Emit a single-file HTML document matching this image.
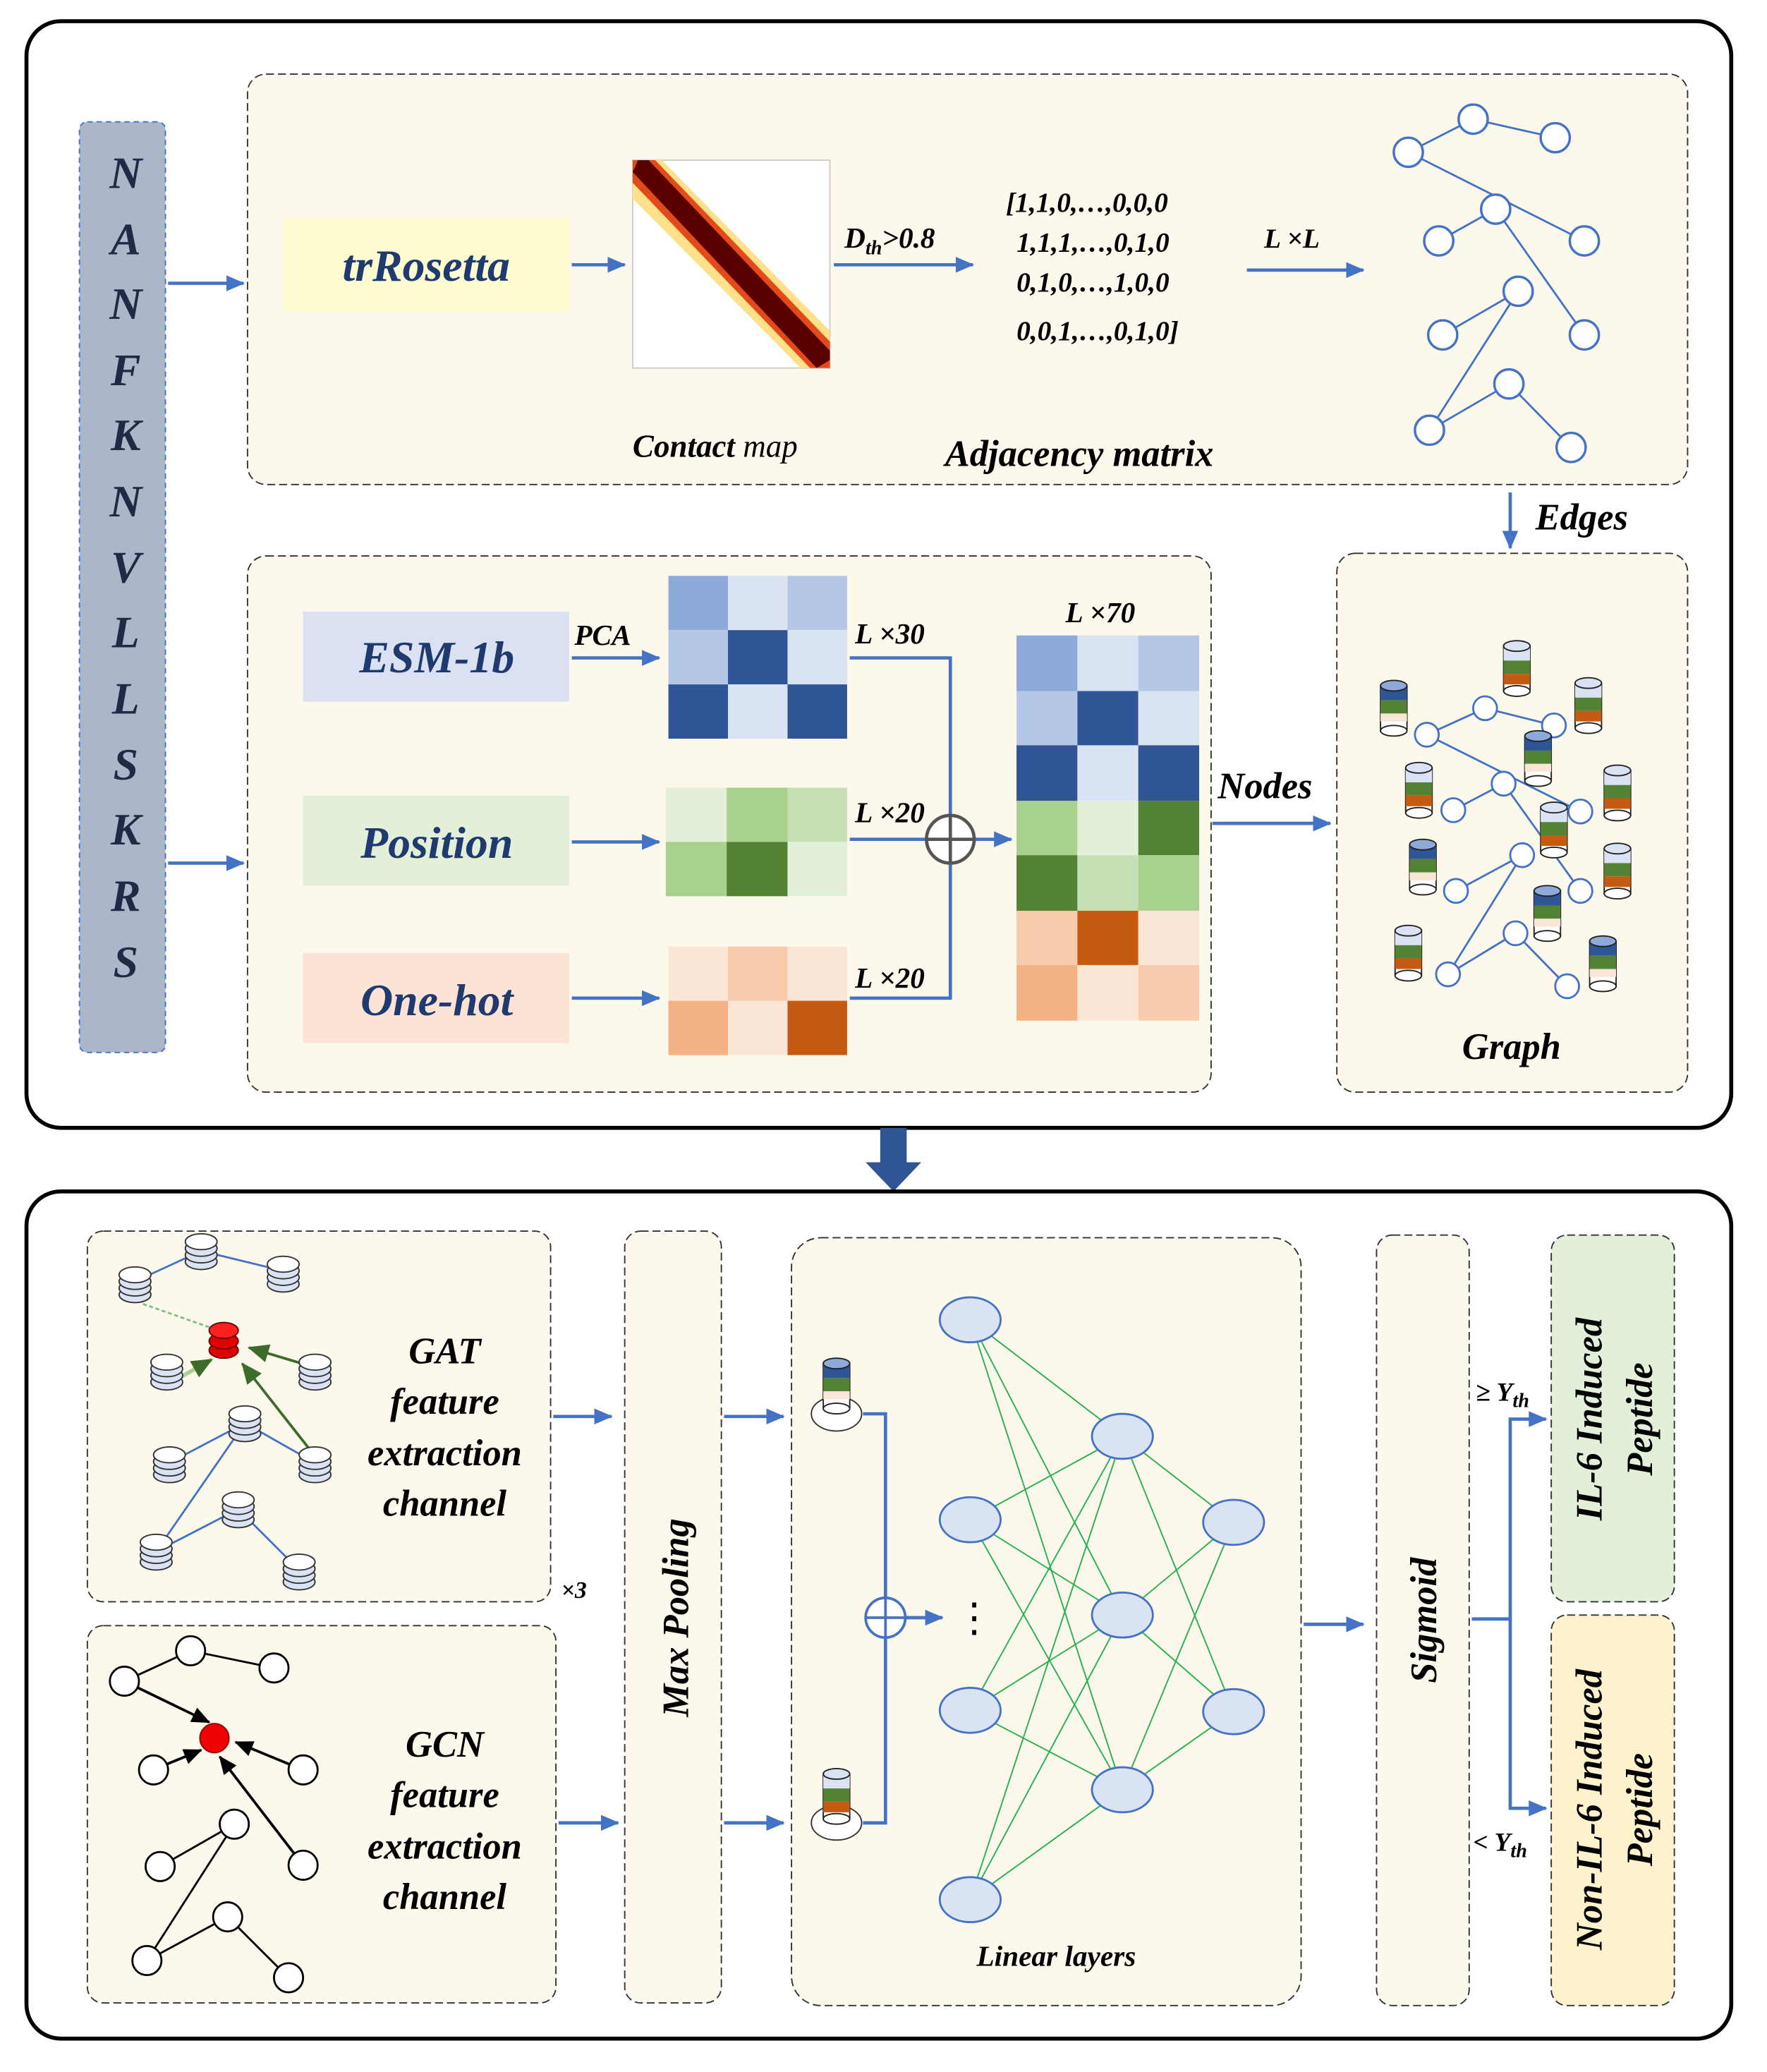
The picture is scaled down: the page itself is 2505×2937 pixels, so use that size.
<!DOCTYPE html>
<html><head><meta charset="utf-8"><style>
html,body{margin:0;padding:0;background:#fff}
svg{display:block}
.t{font-family:"Liberation Serif",serif;font-style:italic;font-weight:bold}
</style></head><body>
<svg width="2505" height="2937" viewBox="0 0 1335 1565.2" preserveAspectRatio="none" xmlns="http://www.w3.org/2000/svg">
<defs>
<marker id="a" markerWidth="8" markerHeight="8" refX="7" refY="4" orient="auto" markerUnits="userSpaceOnUse"><path d="M0,0 L16,4 L0,8 z" fill="#4472c4" transform="scale(0.5,1)"/></marker>
<marker id="ab" markerWidth="14" markerHeight="12" refX="13" refY="6" orient="auto" markerUnits="userSpaceOnUse"><path d="M0,0 L14,6 L0,12 z" fill="#4472c4"/></marker>
<marker id="ak" markerWidth="14" markerHeight="12" refX="13" refY="6" orient="auto" markerUnits="userSpaceOnUse"><path d="M0,0 L14,6 L0,12 z" fill="#000"/></marker>
<marker id="ag" markerWidth="16" markerHeight="14" refX="15" refY="7" orient="auto" markerUnits="userSpaceOnUse"><path d="M0,0 L16,7 L0,14 z" fill="#3d6b2a"/></marker>
<g id="cyl">
<rect x="-10" y="-22" width="20" height="34" fill="#fff" stroke="#222" stroke-width="1"/>
<rect x="-10" y="-22" width="20" height="11" fill="#2f5597"/>
<rect x="-10" y="-11" width="20" height="10" fill="#548235"/>
<rect x="-10" y="-1" width="20" height="6" fill="#fbe5d6"/>
<ellipse cx="0" cy="-22" rx="10" ry="4" fill="#8eaadb" stroke="#222" stroke-width="1"/>
<ellipse cx="0" cy="12" rx="10" ry="4" fill="#fff" stroke="#222" stroke-width="1"/>
</g>
<g id="cyl2">
<rect x="-10" y="-22" width="20" height="34" fill="#fff" stroke="#222" stroke-width="1"/>
<rect x="-10" y="-22" width="20" height="11" fill="#dae3f3"/>
<rect x="-10" y="-11" width="20" height="10" fill="#548235"/>
<rect x="-10" y="-1" width="20" height="8" fill="#c55a11"/>
<ellipse cx="0" cy="-22" rx="10" ry="4" fill="#dae3f3" stroke="#222" stroke-width="1"/>
<ellipse cx="0" cy="12" rx="10" ry="4" fill="#fff" stroke="#222" stroke-width="1"/>
</g>
<g id="disk">
<ellipse cx="0" cy="8" rx="12" ry="6" fill="#dae3f3" stroke="#333"/>
<ellipse cx="0" cy="3" rx="12" ry="6" fill="#dae3f3" stroke="#333"/>
<ellipse cx="0" cy="-2" rx="12" ry="6" fill="#dae3f3" stroke="#333"/>
<ellipse cx="0" cy="-7" rx="12" ry="6" fill="#fff" stroke="#333"/>
</g>
</defs>

<!-- TOP OUTER -->
<rect x="20" y="16" width="1288" height="836" rx="26" fill="#fff" stroke="#000" stroke-width="3"/>
<rect x="60" y="92" width="65" height="703" rx="6" fill="#abb6c8" stroke="#4472c4" stroke-dasharray="4,3"/>
<g class="t" font-size="34" fill="#1f2a44" text-anchor="middle">
<text x="95" y="142">N</text><text x="95" y="192">A</text><text x="95" y="241">N</text><text x="95" y="291">F</text><text x="95" y="340">K</text><text x="95" y="390">N</text><text x="95" y="440">V</text><text x="95" y="489">L</text><text x="95" y="539">L</text><text x="95" y="589">S</text><text x="95" y="638">K</text><text x="95" y="688">R</text><text x="95" y="738">S</text>
</g>
<line x1="127" y1="214" x2="184" y2="214" stroke="#4472c4" stroke-width="2.5" marker-end="url(#ab)"/>
<line x1="127" y1="652" x2="184" y2="652" stroke="#4472c4" stroke-width="2.5" marker-end="url(#ab)"/>

<rect x="187" y="56" width="1088" height="310" rx="14" fill="#fcf8ec" stroke="#333" stroke-dasharray="6,3"/>
<rect x="214" y="165" width="216" height="70" fill="#fdfbcf"/>
<text x="322" y="212" class="t" font-size="34" fill="#1f3a6e" text-anchor="middle">trRosetta</text>
<line x1="432" y1="200" x2="472" y2="200" stroke="#4472c4" stroke-width="2.5" marker-end="url(#ab)"/>
<!-- contact map -->
<rect x="478" y="121" width="149" height="157" fill="#fff" stroke="#ccc"/>
<polygon points="478,121 500,121 627,250 627,278 605,278 478,150" fill="#fde08a"/>
<polygon points="478,121 495,121 627,258 627,278 612,278 478,138" fill="#e34a1a"/>
<polygon points="482,121 490,121 627,265 627,272 617,278 478,130" fill="#5a0000"/>
<line x1="630" y1="200" x2="735" y2="200" stroke="#4472c4" stroke-width="2.5" marker-end="url(#ab)"/>
<text x="638" y="187" class="t" font-size="22" fill="#000">D<tspan font-size="15" dy="5">th</tspan><tspan dy="-5">&gt;0.8</tspan></text>
<g class="t" font-size="21" fill="#000">
<text x="760" y="160">[1,1,0,…,0,0,0</text>
<text x="768" y="190">1,1,1,…,0,1,0</text>
<text x="768" y="220">0,1,0,…,1,0,0</text>
<text x="768" y="257">0,0,1,…,0,1,0]</text>
<text x="955" y="187">L ×L</text>
<text x="478" y="345" font-size="24">Contact <tspan font-weight="normal">map</tspan></text>
<text x="714" y="352" font-size="28">Adjacency matrix</text>
</g>
<line x1="942" y1="204" x2="1030" y2="204" stroke="#4472c4" stroke-width="2.5" marker-end="url(#ab)"/>
<g stroke="#4472c4" stroke-width="1.5" fill="none">
<line x1="1064" y1="115" x2="1113" y2="90"/><line x1="1113" y1="90" x2="1175" y2="104"/>
<line x1="1064" y1="115" x2="1197" y2="182"/><line x1="1130" y1="158" x2="1087" y2="182"/>
<line x1="1130" y1="158" x2="1197" y2="253"/><line x1="1147" y1="220" x2="1090" y2="253"/>
<line x1="1147" y1="220" x2="1080" y2="325"/><line x1="1140" y1="290" x2="1080" y2="325"/>
<line x1="1140" y1="290" x2="1187" y2="338"/>
</g>
<g fill="#fff" stroke="#4472c4" stroke-width="1.8">
<circle cx="1113" cy="90" r="11"/><circle cx="1175" cy="104" r="11"/><circle cx="1064" cy="115" r="11"/><circle cx="1130" cy="158" r="11"/><circle cx="1087" cy="182" r="11"/><circle cx="1197" cy="182" r="11"/><circle cx="1147" cy="220" r="11"/><circle cx="1090" cy="253" r="11"/><circle cx="1197" cy="253" r="11"/><circle cx="1140" cy="290" r="11"/><circle cx="1080" cy="325" r="11"/><circle cx="1187" cy="338" r="11"/>
</g>
<line x1="1141" y1="372" x2="1141" y2="414" stroke="#4472c4" stroke-width="2.5" marker-end="url(#ab)"/>
<text x="1160" y="400" class="t" font-size="28">Edges</text>

<!-- middle panel -->
<rect x="187" y="420" width="728" height="405" rx="14" fill="#fcf8ec" stroke="#333" stroke-dasharray="6,3"/>
<rect x="229" y="462" width="201" height="68" fill="#d9e1f2"/>
<text x="330" y="508" class="t" font-size="34" fill="#1f3a6e" text-anchor="middle">ESM-1b</text>
<rect x="229" y="601" width="201" height="68" fill="#e2efd9"/>
<text x="330" y="648" class="t" font-size="34" fill="#1f3a6e" text-anchor="middle">Position</text>
<rect x="229" y="720" width="201" height="68" fill="#fbe4d5"/>
<text x="330" y="767" class="t" font-size="34" fill="#1f3a6e" text-anchor="middle">One-hot</text>
<g stroke="#4472c4" stroke-width="2.5" fill="none">
<line x1="432" y1="497" x2="498" y2="497" marker-end="url(#ab)"/>
<line x1="432" y1="636" x2="498" y2="636" marker-end="url(#ab)"/>
<line x1="432" y1="754" x2="498" y2="754" marker-end="url(#ab)"/>
<polyline points="642,497 718,497 718,754 642,754"/>
<line x1="642" y1="634" x2="700" y2="634"/>
<line x1="737" y1="634" x2="764" y2="634" marker-end="url(#ab)"/>
<line x1="916" y1="622" x2="1005" y2="622" marker-end="url(#ab)"/>
</g>
<circle cx="718" cy="634" r="18" fill="#fff" stroke="#555" stroke-width="2.5"/>
<line x1="700" y1="634" x2="736" y2="634" stroke="#555" stroke-width="2.5"/><line x1="718" y1="616" x2="718" y2="652" stroke="#555" stroke-width="2.5"/>
<g class="t" font-size="22">
<text x="434" y="487">PCA</text><text x="646" y="486">L ×30</text><text x="646" y="621">L ×20</text><text x="646" y="746">L ×20</text><text x="805" y="470">L ×70</text>
<text x="920" y="603" font-size="28">Nodes</text>
</g>
<!-- ESM grid -->
<g>
<rect x="505" y="435" width="45" height="41" fill="#8eaadb"/><rect x="550" y="435" width="45" height="41" fill="#dae3f3"/><rect x="595" y="435" width="45" height="41" fill="#b4c7e7"/>
<rect x="505" y="476" width="45" height="41" fill="#b4c7e7"/><rect x="550" y="476" width="45" height="41" fill="#2f5597"/><rect x="595" y="476" width="45" height="41" fill="#dae3f3"/>
<rect x="505" y="517" width="45" height="41" fill="#2f5597"/><rect x="550" y="517" width="45" height="41" fill="#dae3f3"/><rect x="595" y="517" width="45" height="41" fill="#2f5597"/>
<rect x="503" y="595" width="46" height="41" fill="#e2f0d9"/><rect x="549" y="595" width="46" height="41" fill="#a9d18e"/><rect x="595" y="595" width="45" height="41" fill="#c5e0b4"/>
<rect x="503" y="636" width="46" height="41" fill="#a9d18e"/><rect x="549" y="636" width="46" height="41" fill="#548235"/><rect x="595" y="636" width="45" height="41" fill="#e2f0d9"/>
<rect x="505" y="715" width="45" height="41" fill="#fbe5d6"/><rect x="550" y="715" width="45" height="41" fill="#f8cbad"/><rect x="595" y="715" width="45" height="41" fill="#fbe5d6"/>
<rect x="505" y="756" width="45" height="41" fill="#f4b183"/><rect x="550" y="756" width="45" height="41" fill="#fbe5d6"/><rect x="595" y="756" width="45" height="41" fill="#c55a11"/>
</g>
<!-- L x70 -->
<g>
<rect x="768" y="480" width="46" height="42" fill="#8eaadb"/><rect x="814" y="480" width="46" height="42" fill="#dae3f3"/><rect x="860" y="480" width="46" height="42" fill="#b4c7e7"/>
<rect x="768" y="522" width="46" height="41" fill="#b4c7e7"/><rect x="814" y="522" width="46" height="41" fill="#2f5597"/><rect x="860" y="522" width="46" height="41" fill="#dae3f3"/>
<rect x="768" y="563" width="46" height="42" fill="#2f5597"/><rect x="814" y="563" width="46" height="42" fill="#dae3f3"/><rect x="860" y="563" width="46" height="42" fill="#2f5597"/>
<rect x="768" y="605" width="46" height="41" fill="#a9d18e"/><rect x="814" y="605" width="46" height="41" fill="#e2f0d9"/><rect x="860" y="605" width="46" height="41" fill="#548235"/>
<rect x="768" y="646" width="46" height="42" fill="#548235"/><rect x="814" y="646" width="46" height="42" fill="#c5e0b4"/><rect x="860" y="646" width="46" height="42" fill="#a9d18e"/>
<rect x="768" y="688" width="46" height="41" fill="#f8cbad"/><rect x="814" y="688" width="46" height="41" fill="#c55a11"/><rect x="860" y="688" width="46" height="41" fill="#fbe5d6"/>
<rect x="768" y="729" width="46" height="42" fill="#f4b183"/><rect x="814" y="729" width="46" height="42" fill="#fbe5d6"/><rect x="860" y="729" width="46" height="42" fill="#f8cbad"/>
</g>

<!-- graph panel -->
<rect x="1010" y="418" width="265" height="407" rx="14" fill="#fcf8ec" stroke="#333" stroke-dasharray="6,3"/>
<g stroke="#4472c4" stroke-width="1.5">
<line x1="1078" y1="555" x2="1122" y2="535"/><line x1="1122" y1="535" x2="1174" y2="548"/><line x1="1078" y1="555" x2="1194" y2="613"/>
<line x1="1136" y1="592" x2="1098" y2="612"/><line x1="1136" y1="592" x2="1194" y2="673"/><line x1="1150" y1="646" x2="1100" y2="673"/>
<line x1="1150" y1="646" x2="1094" y2="736"/><line x1="1145" y1="705" x2="1094" y2="736"/><line x1="1145" y1="705" x2="1184" y2="745"/>
</g>
<g fill="#fff" stroke="#4472c4" stroke-width="1.5">
<circle cx="1078" cy="555" r="9"/><circle cx="1122" cy="535" r="9"/><circle cx="1174" cy="548" r="9"/><circle cx="1136" cy="592" r="9"/><circle cx="1098" cy="612" r="9"/><circle cx="1194" cy="613" r="9"/><circle cx="1150" cy="646" r="9"/><circle cx="1100" cy="673" r="9"/><circle cx="1194" cy="673" r="9"/><circle cx="1145" cy="705" r="9"/><circle cx="1094" cy="736" r="9"/><circle cx="1184" cy="745" r="9"/>
</g>
<use href="#cyl" x="1053" y="540"/><use href="#cyl2" x="1146" y="510"/><use href="#cyl2" x="1200" y="538"/><use href="#cyl" x="1162" y="578"/>
<use href="#cyl2" x="1072" y="602"/><use href="#cyl2" x="1222" y="604"/><use href="#cyl2" x="1174" y="632"/><use href="#cyl" x="1075" y="660"/>
<use href="#cyl2" x="1222" y="663"/><use href="#cyl" x="1169" y="695"/><use href="#cyl2" x="1064" y="725"/><use href="#cyl" x="1211" y="733"/>
<text x="1142" y="800" class="t" font-size="28" text-anchor="middle">Graph</text>

<!-- big down arrow -->
<polygon points="665,852 685,852 685,878 696,878 675,900 654,878 665,878" fill="#2f5597"/>

<!-- BOTTOM OUTER -->
<rect x="20" y="900" width="1288" height="640" rx="26" fill="#fff" stroke="#000" stroke-width="3"/>
<rect x="66" y="930" width="350" height="280" rx="12" fill="#fcf8ec" stroke="#333" stroke-dasharray="6,3"/>
<rect x="66" y="1228" width="354" height="285" rx="12" fill="#fcf8ec" stroke="#333" stroke-dasharray="6,3"/>
<rect x="472" y="930" width="73" height="583" rx="12" fill="#fcf8ec" stroke="#333" stroke-dasharray="6,3"/>
<rect x="598" y="935" width="385" height="580" rx="22" fill="#fcf8ec" stroke="#333" stroke-dasharray="6,3"/>
<rect x="1040" y="933" width="70" height="582" rx="12" fill="#fcf8ec" stroke="#333" stroke-dasharray="6,3"/>
<rect x="1172" y="933" width="93" height="277" rx="12" fill="#e2efd9" stroke="#333" stroke-dasharray="6,3"/>
<rect x="1172" y="1220" width="93" height="295" rx="12" fill="#fdf2cc" stroke="#333" stroke-dasharray="6,3"/>

<!-- GAT graph -->
<g stroke="#4472c4" stroke-width="1.5">
<line x1="102" y1="968" x2="152" y2="945"/><line x1="152" y1="945" x2="214" y2="960"/>
<line x1="185" y1="1075" x2="128" y2="1105"/><line x1="185" y1="1075" x2="238" y2="1105"/><line x1="185" y1="1075" x2="118" y2="1172"/>
<line x1="180" y1="1140" x2="118" y2="1172"/><line x1="180" y1="1140" x2="225" y2="1185"/>
</g>
<line x1="108" y1="985" x2="165" y2="1005" stroke="#7fbf7f" stroke-width="1.5" stroke-dasharray="3,2"/>
<line x1="238" y1="1100" x2="183" y2="1030" stroke="#3d6b2a" stroke-width="2" marker-end="url(#ag)"/>
<line x1="228" y1="1030" x2="188" y2="1018" stroke="#3d6b2a" stroke-width="2" marker-end="url(#ag)"/>
<line x1="128" y1="1045" x2="160" y2="1027" stroke="#a9d18e" stroke-width="3" marker-end="url(#ag)"/>
<use href="#disk" x="102" y="970"/><use href="#disk" x="152" y="945"/><use href="#disk" x="214" y="962"/>
<use href="#disk" x="126" y="1036"/><use href="#disk" x="238" y="1036"/><use href="#disk" x="185" y="1075"/>
<use href="#disk" x="128" y="1106"/><use href="#disk" x="238" y="1106"/><use href="#disk" x="180" y="1140"/>
<use href="#disk" x="118" y="1172"/><use href="#disk" x="226" y="1187"/>
<g><ellipse cx="169" cy="1020" rx="11" ry="6" fill="#e00000" stroke="#600"/><ellipse cx="169" cy="1013" rx="11" ry="6" fill="#e00000" stroke="#600"/><ellipse cx="169" cy="1005" rx="11" ry="6" fill="#ff2020" stroke="#600"/></g>
<g class="t" font-size="28" text-anchor="middle"><text x="336" y="1030">GAT</text><text x="336" y="1068">feature</text><text x="336" y="1107">extraction</text><text x="336" y="1145">channel</text></g>
<text x="424" y="1207" class="t" font-size="18">×3</text>

<!-- GCN graph -->
<g stroke="#000" stroke-width="1.5">
<line x1="94" y1="1270" x2="144" y2="1247"/><line x1="144" y1="1247" x2="207" y2="1260"/>
<line x1="177" y1="1378" x2="121" y2="1410"/><line x1="172" y1="1448" x2="111" y2="1481"/><line x1="172" y1="1448" x2="218" y2="1494"/><line x1="177" y1="1378" x2="111" y2="1481"/>
</g>
<g stroke="#000" stroke-width="2">
<line x1="94" y1="1270" x2="158" y2="1301" marker-end="url(#ak)"/>
<line x1="229" y1="1337" x2="178" y2="1316" marker-end="url(#ak)"/>
<line x1="118" y1="1336" x2="152" y2="1322" marker-end="url(#ak)"/>
<line x1="229" y1="1409" x2="166" y2="1327" marker-end="url(#ak)"/>
</g>
<g fill="#fff" stroke="#000" stroke-width="1.5">
<circle cx="94" cy="1270" r="11"/><circle cx="144" cy="1247" r="11"/><circle cx="207" cy="1260" r="11"/><circle cx="116" cy="1337" r="11"/><circle cx="229" cy="1337" r="11"/>
<circle cx="177" cy="1378" r="11"/><circle cx="121" cy="1410" r="11"/><circle cx="229" cy="1409" r="11"/><circle cx="172" cy="1448" r="11"/><circle cx="111" cy="1481" r="11"/><circle cx="218" cy="1494" r="11"/>
</g>
<circle cx="162" cy="1313" r="11" fill="#f00000" stroke="#900"/>
<g class="t" font-size="28" text-anchor="middle"><text x="336" y="1327">GCN</text><text x="336" y="1365">feature</text><text x="336" y="1404">extraction</text><text x="336" y="1442">channel</text></g>

<g stroke="#4472c4" stroke-width="2.5" fill="none">
<line x1="418" y1="1070" x2="462" y2="1070" marker-end="url(#ab)"/>
<line x1="422" y1="1377" x2="467" y2="1377" marker-end="url(#ab)"/>
<line x1="547" y1="1070" x2="592" y2="1070" marker-end="url(#ab)"/>
<line x1="547" y1="1377" x2="592" y2="1377" marker-end="url(#ab)"/>
<polyline points="652,1068 669,1068 669,1377 652,1377"/>
<line x1="669" y1="1222" x2="712" y2="1222" marker-end="url(#ab)"/>
<line x1="985" y1="1227" x2="1030" y2="1227" marker-end="url(#ab)"/>
<polyline points="1112,1223 1141,1223 1141,1072 1168,1072" marker-end="url(#ab)"/>
<polyline points="1141,1223 1141,1366 1168,1366" marker-end="url(#ab)"/>
</g>
<text x="520" y="1222" class="t" font-size="28" text-anchor="middle" transform="rotate(-90 520 1222)">Max Pooling</text>
<circle cx="669" cy="1222" r="15" fill="#fff" stroke="#4472c4" stroke-width="2"/>
<line x1="654" y1="1222" x2="684" y2="1222" stroke="#4472c4" stroke-width="2"/><line x1="669" y1="1207" x2="669" y2="1237" stroke="#4472c4" stroke-width="2"/>
<ellipse cx="632" cy="1068" rx="19" ry="13" fill="#fff" stroke="#333"/>
<use href="#cyl" x="632" y="1052"/>
<ellipse cx="632" cy="1377" rx="19" ry="13" fill="#fff" stroke="#333"/>
<use href="#cyl2" x="632" y="1362"/>
<text x="736" y="1232" font-family="Liberation Serif" font-size="30" text-anchor="middle">⋮</text>

<!-- NN -->
<g stroke="#22b14c" stroke-width="1">
<line x1="733" y1="997" x2="848" y2="1085"/><line x1="733" y1="997" x2="848" y2="1220"/><line x1="733" y1="997" x2="848" y2="1352"/>
<line x1="733" y1="1148" x2="848" y2="1085"/><line x1="733" y1="1148" x2="848" y2="1220"/><line x1="733" y1="1148" x2="848" y2="1352"/>
<line x1="733" y1="1292" x2="848" y2="1085"/><line x1="733" y1="1292" x2="848" y2="1220"/><line x1="733" y1="1292" x2="848" y2="1352"/>
<line x1="733" y1="1435" x2="848" y2="1085"/><line x1="733" y1="1435" x2="848" y2="1220"/><line x1="733" y1="1435" x2="848" y2="1352"/>
<line x1="848" y1="1085" x2="932" y2="1150"/><line x1="848" y1="1085" x2="932" y2="1293"/>
<line x1="848" y1="1220" x2="932" y2="1150"/><line x1="848" y1="1220" x2="932" y2="1293"/>
<line x1="848" y1="1352" x2="932" y2="1150"/><line x1="848" y1="1352" x2="932" y2="1293"/>
</g>
<g fill="#dae3f3" stroke="#4472c4" stroke-width="1.5">
<ellipse cx="733" cy="997" rx="23" ry="17"/><ellipse cx="733" cy="1148" rx="23" ry="17"/><ellipse cx="733" cy="1292" rx="23" ry="17"/><ellipse cx="733" cy="1435" rx="23" ry="17"/>
<ellipse cx="848" cy="1085" rx="23" ry="17"/><ellipse cx="848" cy="1220" rx="23" ry="17"/><ellipse cx="848" cy="1352" rx="23" ry="17"/>
<ellipse cx="932" cy="1150" rx="23" ry="17"/><ellipse cx="932" cy="1293" rx="23" ry="17"/>
</g>
<text x="798" y="1485" class="t" font-size="22" text-anchor="middle">Linear layers</text>

<text x="1085" y="1224" class="t" font-size="28" text-anchor="middle" transform="rotate(-90 1085 1224)">Sigmoid</text>
<text x="1115" y="1058" class="t" font-size="20">≥ Y<tspan font-size="15" dy="5">th</tspan></text>
<text x="1113" y="1398" class="t" font-size="20">&lt; Y<tspan font-size="15" dy="5">th</tspan></text>
<g class="t" font-size="28" text-anchor="middle">
<text transform="translate(1210 1072) rotate(-90)">IL-6 Induced</text>
<text transform="translate(1248 1072) rotate(-90)">Peptide</text>
<text transform="translate(1210 1367) rotate(-90)">Non-IL-6 Induced</text>
<text transform="translate(1248 1367) rotate(-90)">Peptide</text>
</g>
</svg>
</body></html>
